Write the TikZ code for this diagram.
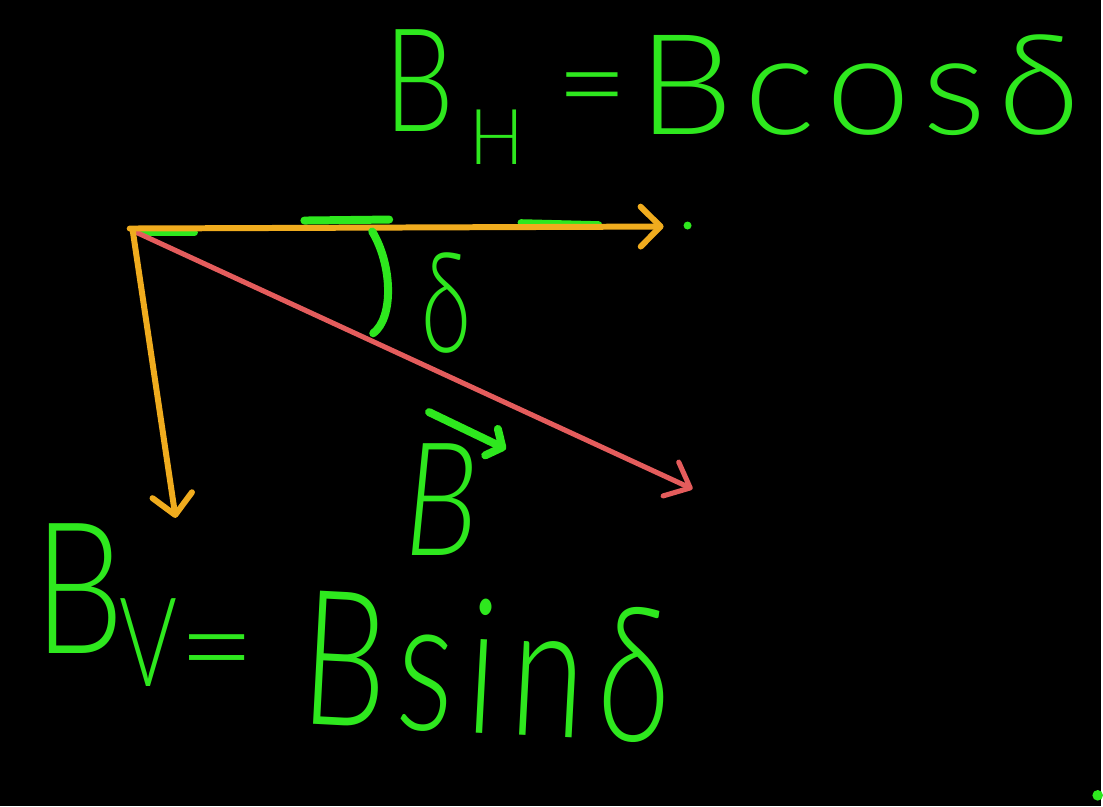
\documentclass[tikz,border=0pt]{standalone}
\usepackage{fontspec}
\setmainfont{Lato Light}
\usetikzlibrary{arrows.meta}
\definecolor{hg}{RGB}{46,232,30}
\definecolor{vo}{RGB}{240,172,30}
\definecolor{vr}{RGB}{228,92,92}
\begin{document}
\begin{tikzpicture}[x=0.75pt,y=-0.75pt,
  hand/.style={text=hg, inner sep=0pt, outer sep=0pt},
  stroke/.style={hg, line width=6pt, line cap=round, line join=round},
  orangevec/.style={vo, line width=4.5pt, line cap=round, line join=round,
    -{Straight Barb[length=15pt,width=30pt,line cap=round,line join=round]}},
  redvec/.style={vr, line width=3.8pt, line cap=round, line join=round,
    -{Straight Barb[length=16pt,width=28pt,line cap=round,line join=round]}}]
\fill[black] (0,0) rectangle (1103,808);
% points
\coordinate (O) at (130,229);
\coordinate (Ov) at (133,231);
\coordinate (Or) at (137,233);
\coordinate (H) at (665,227);
\coordinate (V) at (176,519);
\coordinate (R) at (694,490);
% green dashes along the horizontal component
\draw[stroke] (305,221) -- (390,220);
\draw[stroke, line width=5pt] (522,223) -- (600,225);
\draw[stroke, line width=5pt] (140,233) -- (195,233);
% vectors
\draw[redvec] (Or) -- (R);
\draw[orangevec] (O) -- (H);
\draw[orangevec] (Ov) -- (V);
% angle mark
\draw[stroke] (373,232) .. controls (393,265) and (395,318) .. (374,334);
% dots
\fill[hg] (689,226) circle[radius=3pt];
\fill[hg] (1100,797) circle[radius=4pt];
% top text
\node[hand, anchor=base west] (bh) at (385,132) {\resizebox{52.5pt}{76.5pt}{B}};
\node[hand, anchor=base west] (hsub) at (470,165) {\resizebox{41pt}{41pt}{H}};
\node[hand] (eq1) at (594,100) {\fontsize{93}{93}\selectfont =};
\node[hand, anchor=base west] (bcos) at (640,135) {\resizebox{331.5pt}{75pt}{\addfontfeature{LetterSpace=8}Bcosδ}};
% delta label
\node[hand, anchor=base west] (delta) at (422,353) {\resizebox{37.5pt}{75pt}{δ}};
% vector B label
\node[hand, anchor=base west] (bvec) at (405,557) {\resizebox{56pt}{84pt}{\itshape B}};
\coordinate (va) at (430,413);
\coordinate (vb) at (507,450);
\draw[stroke, -{Straight Barb[length=9pt,width=22pt,line cap=round,line join=round]}] (va) -- (vb);
% bottom text
\node[hand, anchor=base west] (bv) at (35,655) {\resizebox{67.5pt}{97.5pt}{B}};
\node[hand, anchor=base west] (vsub) at (120,688) {\resizebox{43.5pt}{66pt}{V}};
\node[hand] (eq2) at (218,665) {\fontsize{100}{100}\selectfont =};
\node[hand, anchor=base west, rotate=-3] (bsin) at (300,725) {\resizebox{277.5pt}{101pt}{\addfontfeature{LetterSpace=10}Bsinδ}};
\end{tikzpicture}
\end{document}
